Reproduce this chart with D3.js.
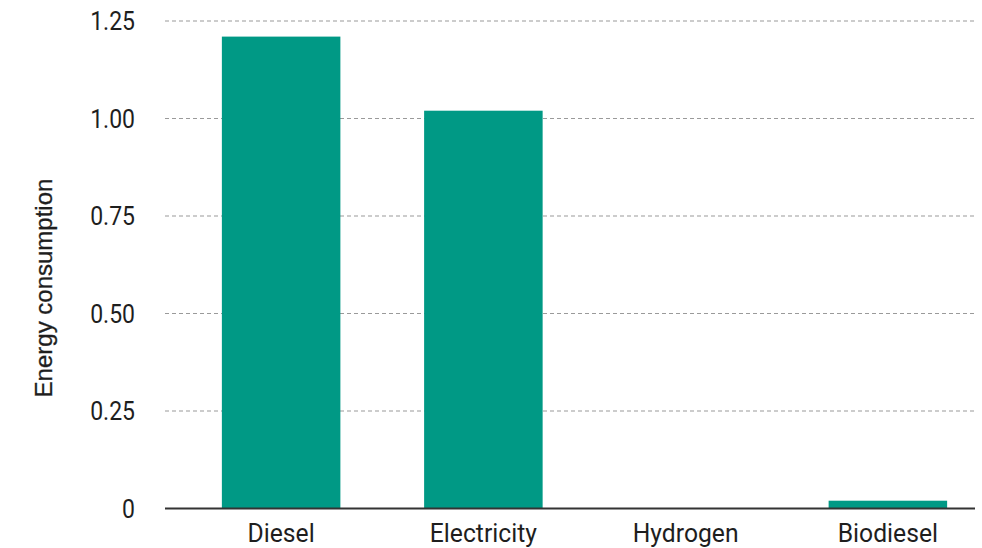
<!DOCTYPE html>
<html>
<head>
<meta charset="utf-8">
<script src="https://cdn.jsdelivr.net/npm/d3@7"></script>
<style>
  body { margin: 0; background: #fff; }
  svg text { font-family: Roboto, "Liberation Sans", sans-serif; fill: #1e1e1e; }
</style>
</head>
<body>
<div id="chart"></div>
<script>
const categories = ['Diesel', 'Electricity', 'Hydrogen', 'Biodiesel'];
const values = [1.21, 1.02, 0, 0.02];
const yTicks = [0, 0.25, 0.5, 0.75, 1.0, 1.25];
const yTickLabels = ['0', '0.25', '0.50', '0.75', '1.00', '1.25'];
const yTitle = 'Energy consumption';

const width = 982, height = 548;
const plot = { left: 165, right: 975, top: 21, bottom: 508.5 };

const svg = d3.select('#chart').append('svg')
  .attr('width', width)
  .attr('height', height);

const x = d3.scaleBand()
  .domain(categories)
  .range([180, 989])
  .paddingInner(0.414)
  .paddingOuter(0.207);

const y = d3.scaleLinear()
  .domain([0, 1.25])
  .range([plot.bottom, plot.top]);

// dashed gridlines
svg.append('g')
  .selectAll('line')
  .data(yTicks.filter(d => d > 0))
  .join('line')
  .attr('x1', plot.left)
  .attr('x2', plot.right)
  .attr('y1', d => y(d))
  .attr('y2', d => y(d))
  .attr('stroke', '#9a9a9a')
  .attr('stroke-width', 1.2)
  .attr('stroke-dasharray', '4,3');

// y tick labels (narrow, like a condensed face)
svg.append('g')
  .selectAll('text')
  .data(yTicks)
  .join('text')
  .attr('transform', d => `translate(135,${y(d)}) scale(0.92,1)`)
  .attr('dy', '0.36em')
  .attr('text-anchor', 'end')
  .style('font-size', '25px')
  .text((d, i) => yTickLabels[i]);

// bars
svg.append('g')
  .selectAll('rect')
  .data(categories)
  .join('rect')
  .attr('x', d => x(d))
  .attr('y', (d, i) => y(values[i]))
  .attr('width', x.bandwidth())
  .attr('height', (d, i) => y(0) - y(values[i]))
  .attr('fill', '#009985');

// baseline
svg.append('line')
  .attr('x1', plot.left)
  .attr('x2', plot.right)
  .attr('y1', y(0))
  .attr('y2', y(0))
  .attr('stroke', '#333')
  .attr('stroke-width', 2);

// x labels
svg.append('g')
  .selectAll('text')
  .data(categories)
  .join('text')
  .attr('transform', d => `translate(${x(d) + x.bandwidth() / 2},542) scale(0.95,1)`)
  .attr('text-anchor', 'middle')
  .style('font-size', '26px')
  .text(d => d);

// y title
svg.append('text')
  .attr('transform', 'translate(52,288) rotate(-90)')
  .attr('text-anchor', 'middle')
  .style('font-size', '24px')
  .style('font-family', '"Liberation Sans", Arial, sans-serif')
  .style('stroke', '#1e1e1e')
  .style('stroke-width', 0.3)
  .text(yTitle);
</script>
</body>
</html>
